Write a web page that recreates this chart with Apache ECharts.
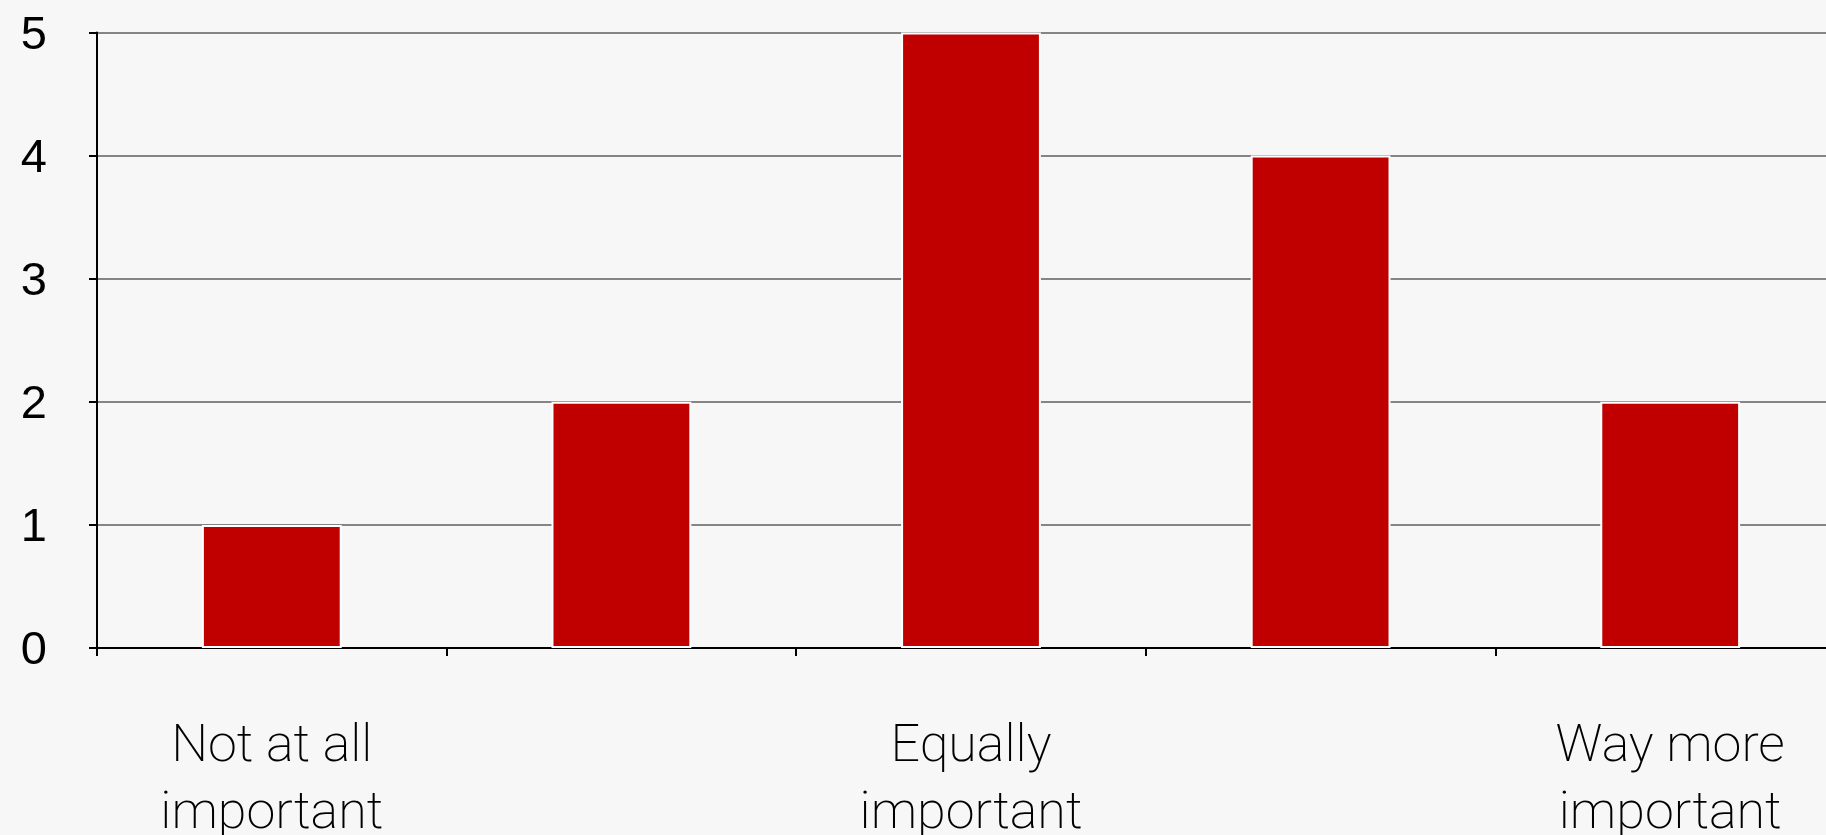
<!DOCTYPE html>
<html>
<head>
<meta charset="utf-8">
<title>Importance ratings</title>
<script src="https://cdn.jsdelivr.net/npm/echarts@6/dist/echarts.min.js"></script>
<style>
  html, body { margin: 0; padding: 0; background: #f7f7f7; }
  #chart { width: 1826px; height: 835px; }
</style>
</head>
<body>
<div id="chart"></div>
<script>
// Response scale (1 = not at all important ... 5 = way more important)
const categories = ['1', '2', '3', '4', '5'];
// Text shown under the scale points; the in-between points stay unlabeled
const xTickLabels = ['Not at all\nimportant', '', 'Equally\nimportant', '', 'Way more\nimportant'];
// Number of responses per scale point
const counts = [1, 2, 5, 4, 2];
// Value axis range
const yMin = 0, yMax = 5, yStep = 1;

const chart = echarts.init(document.getElementById('chart'), null, { renderer: 'canvas' });

chart.setOption({
  backgroundColor: '#f7f7f7',
  animation: false,
  grid: {
    left: 97, top: 32.5, width: 1748, height: 615.5,
    containLabel: false,
    outerBoundsMode: 'none'
  },
  xAxis: {
    type: 'category',
    data: categories,
    boundaryGap: true,
    axisLine: { show: true, lineStyle: { color: '#000', width: 2 } },
    axisTick: { show: true, alignWithLabel: false, length: 8, lineStyle: { color: '#000', width: 2 } },
    axisLabel: {
      interval: 0,
      margin: 66,
      formatter: (v, i) => xTickLabels[i],
      fontFamily: 'Roboto',
      fontWeight: 200,
      fontSize: 52,
      lineHeight: 67,
      color: '#000'
    },
    splitLine: { show: false }
  },
  yAxis: {
    type: 'value',
    min: yMin,
    max: yMax,
    interval: yStep,
    axisLine: { show: true, lineStyle: { color: '#000', width: 2 } },
    axisTick: { show: true, length: 8, lineStyle: { color: '#000', width: 2 } },
    axisLabel: {
      margin: 50,
      formatter: '{n|{value}}',
      rich: {
        n: {
          fontFamily: 'Liberation Sans',
          fontSize: 47,
          color: '#000',
          padding: [7, 0, 0, 0]
        }
      }
    },
    splitLine: { show: true, lineStyle: { color: '#858585', width: 2 } }
  },
  series: [{
    type: 'bar',
    data: counts,
    barWidth: '40%',
    itemStyle: { color: '#c00000', borderColor: '#ffffff', borderWidth: 2 }
  }]
});
</script>
</body>
</html>
